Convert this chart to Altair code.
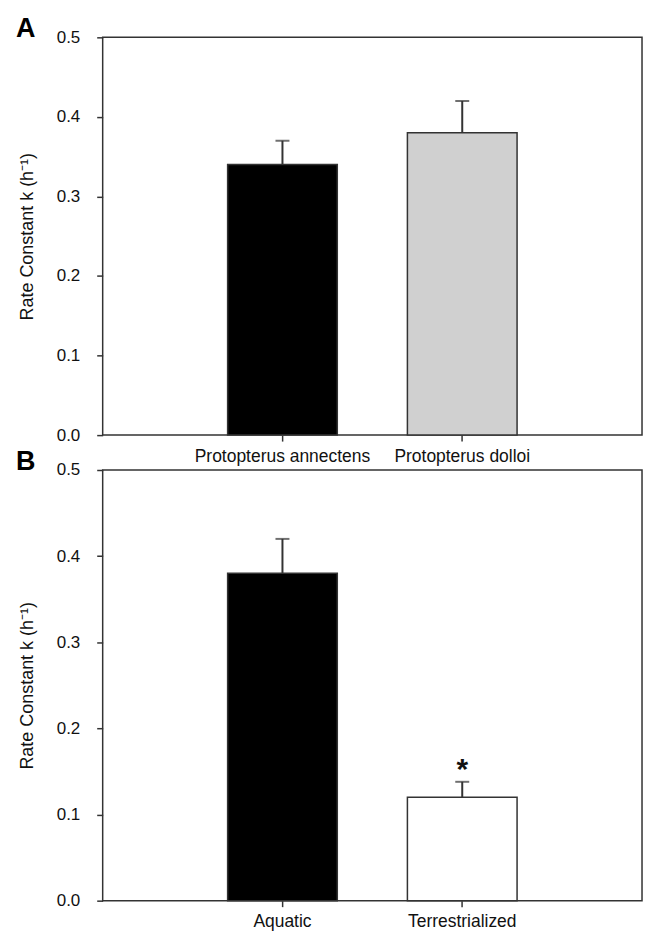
import altair as alt
import pandas as pd

FONT = "Liberation Sans"

panel_a_groups = ["Protopterus annectens", "Protopterus dolloi"]
panel_a_means = [0.34, 0.38]
panel_a_errs = [0.03, 0.04]
panel_a_fills = ["#000000", "#d0d0d0"]
panel_a_marks = ["", ""]

panel_b_groups = ["Aquatic", "Terrestrialized"]
panel_b_means = [0.38, 0.12]
panel_b_errs = [0.04, 0.018]
panel_b_fills = ["#000000", "#ffffff"]
panel_b_marks = ["", "*"]

y_ticks = [0.0, 0.1, 0.2, 0.3, 0.4, 0.5]
y_title = "Rate Constant k (h\u207b\u00b9)"

PLOT_W = 541


def panel(groups, means, errs, fills, marks, letter, height):
    df = pd.DataFrame({
        "group": groups,
        "mean": means,
        "upper": [m + e for m, e in zip(means, errs)],
        "star": [m + e + 0.014 for m, e in zip(means, errs)],
        "fill": fills,
        "mark": marks,
    })
    x = alt.X(
        "group:N", sort=groups,
        scale=alt.Scale(paddingInner=0.39, paddingOuter=0.695),
        axis=alt.Axis(title=None, labelAngle=0, labelFont=FONT, labelFontSize=17.5,
                      labelColor="#111", tickSize=6, tickColor="#333", tickWidth=1.5,
                      domain=False, labelPadding=6, labelLimit=0),
    )
    yscale = alt.Scale(domain=[0, 0.5], nice=False)
    y = alt.Y(
        "mean:Q", scale=yscale,
        axis=alt.Axis(values=y_ticks, format=".1f", title=y_title, titleFont=FONT,
                      titleFontSize=18, titleFontWeight="normal", titleColor="#111",
                      titlePadding=20, labelFont=FONT, labelFontSize=17, labelColor="#111",
                      tickSize=6, tickColor="#333", tickWidth=1.5, domain=False,
                      grid=False, labelPadding=17),
    )
    base = alt.Chart(df)
    bars = base.mark_bar(stroke="#333", strokeWidth=1.5).encode(
        x=x, y=y, color=alt.Color("fill:N", scale=None)
    )
    err = base.mark_rule(color="#333", strokeWidth=2).encode(
        x=alt.X("group:N", sort=groups), y="mean:Q", y2="upper:Q"
    )
    cap = base.mark_tick(color="#333", size=14, thickness=2).encode(
        x=alt.X("group:N", sort=groups), y=alt.Y("upper:Q")
    )
    star = base.transform_filter(alt.datum.mark != "").mark_text(
        font=FONT, fontSize=30, fontWeight="bold", color="#111", baseline="middle"
    ).encode(x=alt.X("group:N", sort=groups), y=alt.Y("star:Q"), text="mark:N")
    lab = alt.Chart(pd.DataFrame({"t": [letter]})).mark_text(
        font=FONT, fontSize=27, fontWeight="bold", color="#000", align="left",
        baseline="top"
    ).encode(x=alt.value(-87), y=alt.value(-21), text="t:N")
    return alt.layer(bars, err, cap, star, lab).properties(width=PLOT_W, height=height)


chart_a = panel(panel_a_groups, panel_a_means, panel_a_errs, panel_a_fills,
                panel_a_marks, "A", 399)
chart_b = panel(panel_b_groups, panel_b_means, panel_b_errs, panel_b_fills,
                panel_b_marks, "B", 432)

chart = alt.vconcat(chart_a, chart_b, spacing=35, bounds="flush").properties(
    padding={"left": 15, "top": 13, "right": 5, "bottom": 5},
    background="white",
).configure_view(stroke="#333", strokeWidth=1.5)

chart.save("out.html", embed_options={"renderer": "svg", "actions": False})
